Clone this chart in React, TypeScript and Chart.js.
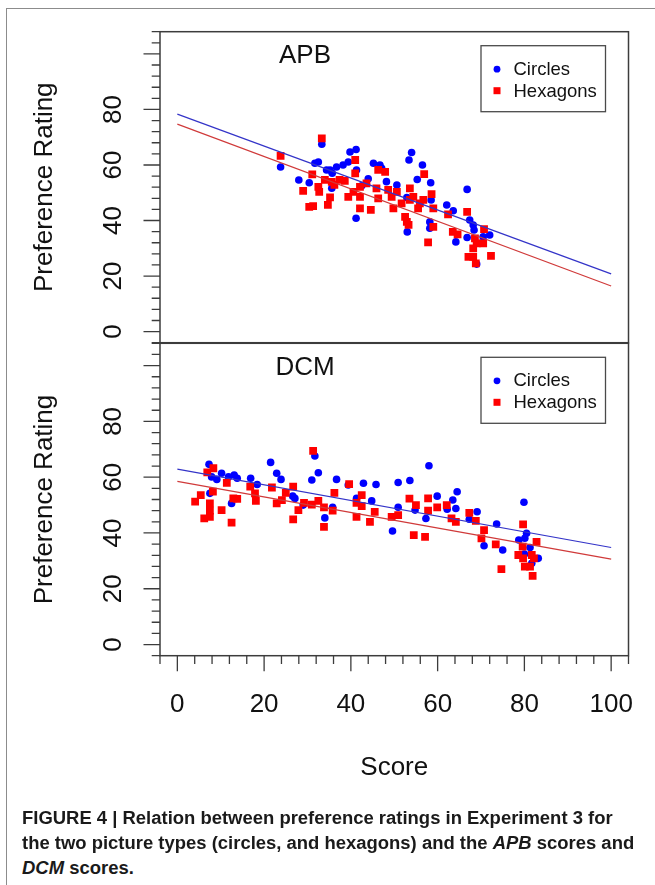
import React, { useEffect, useLayoutEffect, useRef } from "react";
import { Chart, registerables } from "chart.js";

Chart.register(...registerables);

const FONT = '"Liberation Sans", Arial, Helvetica, sans-serif';

// ---------- data ----------
const seriesNames = ["Circles", "Hexagons"];
const panelTitles = ["APB", "DCM"];
const yTickLabels = [0, 20, 40, 60, 80];
const xTickLabels = [0, 20, 40, 60, 80, 100];
const fitScores = [0, 100];

// APB panel: [score, preference rating]
const apbCircles: [number, number][] = [
  [23.8, 59.3], [28.0, 54.6], [30.4, 53.6], [31.7, 60.6], [32.5, 61.1], [33.3, 67.5],
  [34.4, 58.2], [35.2, 58.2], [35.6, 51.6], [35.7, 57.0], [36.7, 59.3], [38.2, 60.0],
  [39.4, 61.1], [39.8, 64.7], [41.2, 65.6], [41.3, 58.2], [41.2, 40.8], [42.5, 52.5],
  [44.0, 55.0], [45.2, 60.6], [46.7, 60.0], [47.1, 58.8], [48.2, 54.0], [50.6, 52.8],
  [52.9, 48.3], [53.0, 35.9], [53.4, 61.8], [54.0, 64.5], [55.3, 54.8], [56.5, 60.0],
  [58.4, 53.6], [58.5, 47.4], [58.2, 39.5], [58.2, 37.2], [62.1, 45.6], [63.6, 43.5],
  [64.2, 32.3], [66.8, 51.2], [66.8, 33.9], [67.4, 40.2], [68.2, 38.4], [68.4, 36.6],
  [69.0, 24.3], [70.5, 34.1], [72.0, 34.8],
];
const apbHexagons: [number, number][] = [
  [23.8, 63.3], [33.3, 69.6], [31.1, 56.6], [29.0, 50.7], [32.5, 52.1], [32.7, 50.3],
  [34.0, 54.6], [35.6, 53.9], [36.2, 52.8], [37.4, 54.6], [30.4, 44.9], [31.3, 45.2],
  [34.7, 45.6], [35.2, 48.3], [39.4, 48.5], [41.0, 61.8], [41.0, 57.0], [46.3, 58.2],
  [47.9, 57.5], [56.9, 56.7], [38.6, 54.3], [40.6, 50.3], [42.1, 52.1], [43.6, 53.4],
  [42.1, 48.5], [42.1, 44.4], [44.6, 43.8], [45.9, 51.6], [46.3, 48.0], [48.6, 51.0],
  [49.4, 48.5], [49.8, 44.4], [50.6, 50.3], [51.7, 46.2], [53.6, 51.6], [53.6, 47.4],
  [54.4, 48.5], [55.9, 46.2], [55.5, 44.4], [56.7, 47.4], [58.6, 49.5], [59.0, 44.4],
  [52.5, 41.3], [52.9, 39.5], [53.3, 38.4], [59.0, 37.7], [57.8, 32.1], [62.4, 42.2],
  [63.5, 35.9], [64.6, 35.0], [66.8, 43.1], [70.7, 36.9], [68.6, 33.6], [69.0, 31.8],
  [70.5, 31.8], [68.2, 30.0], [67.1, 26.9], [68.2, 26.9], [68.8, 24.6], [72.3, 27.3],
];
const apbCircleFit = [78.3, 20.8];
const apbHexagonFit = [74.7, 16.4];

// DCM panel: [score, preference rating]
const dcmCircles: [number, number][] = [
  [7.3, 64.6], [7.9, 60.1], [9.1, 59.2], [10.2, 61.4], [11.8, 60.1], [13.1, 60.8],
  [13.8, 59.6], [7.5, 54.2], [12.5, 50.6], [16.9, 59.6], [18.4, 57.4], [21.5, 65.3],
  [22.9, 61.4], [23.9, 59.2], [26.6, 53.2], [27.1, 52.4], [29.0, 50.0], [31.7, 67.6],
  [32.5, 61.6], [31.0, 59.0], [34.0, 45.4], [36.7, 59.2], [35.8, 49.2], [39.4, 57.2],
  [42.9, 57.8], [45.8, 57.4], [41.3, 52.4], [44.8, 51.5], [50.9, 58.1], [53.6, 58.8],
  [58.0, 64.1], [50.9, 49.2], [54.8, 48.2], [49.6, 40.7], [57.3, 45.2], [59.9, 53.2],
  [64.5, 54.8], [63.5, 51.8], [64.2, 48.8], [62.2, 48.5], [67.3, 44.9], [69.1, 47.6],
  [73.6, 43.2], [70.7, 35.4], [75.0, 33.9], [79.9, 51.0], [80.5, 39.9], [80.1, 38.1],
  [78.7, 37.5], [81.3, 34.8], [83.2, 30.9], [80.0, 32.4], [81.7, 29.1],
];
const dcmHexagons: [number, number][] = [
  [8.3, 63.2], [6.9, 61.7], [11.4, 58.0], [8.2, 54.8], [4.1, 51.2], [5.4, 53.6],
  [7.5, 50.6], [7.5, 48.0], [6.2, 45.2], [7.5, 45.8], [10.2, 48.2], [12.5, 43.7],
  [12.9, 52.4], [13.8, 52.2], [16.8, 56.6], [17.9, 54.2], [18.1, 51.5], [21.8, 56.3],
  [22.9, 50.6], [24.1, 51.8], [25.0, 54.4], [26.7, 56.6], [26.7, 44.9], [27.9, 48.2],
  [29.2, 50.8], [31.0, 50.2], [32.5, 51.5], [31.3, 69.4], [33.8, 49.2], [33.8, 42.2],
  [35.8, 48.0], [36.2, 54.4], [39.6, 57.5], [41.3, 50.8], [42.5, 53.6], [42.5, 49.6],
  [41.3, 45.8], [44.4, 44.0], [45.5, 47.6], [49.4, 45.8], [50.9, 46.4], [53.5, 52.3],
  [55.0, 50.0], [54.5, 39.2], [57.1, 38.6], [57.8, 52.4], [57.8, 48.0], [59.9, 49.2],
  [62.1, 50.0], [63.2, 45.2], [64.2, 44.0], [67.3, 47.2], [68.8, 44.3], [70.7, 41.0],
  [70.1, 38.1], [73.4, 35.9], [74.7, 27.0], [79.7, 43.1], [82.8, 36.8], [78.6, 32.1],
  [79.6, 35.1], [79.7, 30.9], [81.7, 32.1], [82.2, 30.9], [80.1, 27.9], [81.3, 27.9],
  [81.9, 24.6],
];
const dcmCircleFit = [62.9, 34.8];
const dcmHexagonFit = [58.5, 30.6];

// ---------- styling ----------
const BLUE = "#0000ff";
const RED = "#ff0000";
const BLUE_LINE = "#3434c8";
const RED_LINE = "#d03a3a";
const AXIS = "#3c3c3c";
const TEXT = "#111111";
const X_MIN = -4, X_MAX = 104, Y_MIN = -4, Y_MAX = 108, MINOR = 4;

function toPts(arr: [number, number][]) {
  return arr.map(([x, y]) => ({ x, y }));
}
function fitPts(fit: number[]) {
  return fitScores.map((s, i) => ({ x: s, y: fit[i] }));
}

function panelPlugin(title: string, showX: boolean) {
  return {
    id: "rpanel",
    afterDraw(chart: any) {
      const ctx: CanvasRenderingContext2D = chart.ctx;
      const { left, right, top, bottom } = chart.chartArea;
      const xs = chart.scales.x;
      const ys = chart.scales.y;
      ctx.save();
      // box
      ctx.strokeStyle = AXIS;
      ctx.lineWidth = 1.5;
      ctx.strokeRect(left, top, right - left, bottom - top);
      // y ticks
      ctx.lineWidth = 1.3;
      ctx.beginPath();
      for (let v = Y_MIN; v <= Y_MAX + 0.01; v += MINOR) {
        const py = ys.getPixelForValue(v);
        const len = v % 20 === 0 ? 16.5 : 8.3;
        ctx.moveTo(left - len, py);
        ctx.lineTo(left, py);
      }
      ctx.stroke();
      // y labels
      ctx.fillStyle = TEXT;
      ctx.font = `26px ${FONT}`;
      ctx.textAlign = "center";
      ctx.textBaseline = "middle";
      for (const v of yTickLabels) {
        const py = ys.getPixelForValue(v);
        ctx.save();
        ctx.translate(113, py);
        ctx.rotate(-Math.PI / 2);
        ctx.fillText(String(v), 0, 1);
        ctx.restore();
      }
      // y axis title
      ctx.save();
      ctx.translate(45, (top + bottom) / 2);
      ctx.rotate(-Math.PI / 2);
      ctx.fillText("Preference Rating", 0, 0);
      ctx.restore();
      // panel title
      ctx.fillText(title, 305, top + 24.5);
      // legend
      const bx = right - 147.5, by = top + 14, bw = 124.5, bh = 66;
      ctx.strokeStyle = "#4a4a4a";
      ctx.lineWidth = 1.3;
      ctx.strokeRect(bx, by, bw, bh);
      ctx.fillStyle = BLUE;
      ctx.beginPath();
      ctx.arc(bx + 16, by + 23.5, 3.4, 0, Math.PI * 2);
      ctx.fill();
      ctx.fillStyle = RED;
      ctx.fillRect(bx + 12.5, by + 41.5, 7, 7);
      ctx.fillStyle = TEXT;
      ctx.font = `18.5px ${FONT}`;
      ctx.textAlign = "left";
      ctx.fillText(seriesNames[0], bx + 32.5, by + 24);
      ctx.fillText(seriesNames[1], bx + 32.5, by + 46);
      if (showX) {
        ctx.strokeStyle = AXIS;
        ctx.lineWidth = 1.3;
        ctx.beginPath();
        for (let v = X_MIN; v <= X_MAX + 0.01; v += MINOR) {
          const px = xs.getPixelForValue(v);
          const len = v % 20 === 0 ? 15.5 : 8.3;
          ctx.moveTo(px, bottom);
          ctx.lineTo(px, bottom + len);
        }
        ctx.stroke();
        ctx.fillStyle = TEXT;
        ctx.font = `26px ${FONT}`;
        ctx.textAlign = "center";
        ctx.textBaseline = "middle";
        for (const v of xTickLabels) {
          ctx.fillText(String(v), xs.getPixelForValue(v), bottom + 49);
        }
        ctx.fillText("Score", (left + right) / 2, bottom + 112);
      }
      ctx.restore();
    },
  };
}

function makeConfig(
  circles: [number, number][],
  hexagons: [number, number][],
  circleFit: number[],
  hexFit: number[],
  title: string,
  showX: boolean,
  padding: { left: number; right: number; top: number; bottom: number }
): any {
  return {
    type: "scatter",
    data: {
      datasets: [
        {
          label: seriesNames[0] + " fit",
          data: fitPts(circleFit),
          showLine: true,
          borderColor: BLUE_LINE,
          borderWidth: 1.2,
          pointRadius: 0,
          order: 0,
        },
        {
          label: seriesNames[1] + " fit",
          data: fitPts(hexFit),
          showLine: true,
          borderColor: RED_LINE,
          borderWidth: 1.2,
          pointRadius: 0,
          order: 0,
        },
        {
          label: seriesNames[1],
          data: toPts(hexagons),
          pointStyle: "rect",
          pointRadius: 5.5,
          backgroundColor: RED,
          borderWidth: 0,
          order: 1,
        },
        {
          label: seriesNames[0],
          data: toPts(circles),
          pointStyle: "circle",
          pointRadius: 3.8,
          backgroundColor: BLUE,
          borderWidth: 0,
          order: 2,
        },
      ],
    },
    options: {
      animation: false,
      responsive: false,
      devicePixelRatio: 1,
      events: [],
      layout: { padding },
      scales: {
        x: { type: "linear", min: X_MIN, max: X_MAX, display: false },
        y: { type: "linear", min: Y_MIN, max: Y_MAX, display: false },
      },
      plugins: { legend: { display: false }, tooltip: { enabled: false }, title: { display: false } },
    },
    plugins: [panelPlugin(title, showX)],
  };
}

export default function App() {
  const topRef = useRef<HTMLCanvasElement>(null);
  const botRef = useRef<HTMLCanvasElement>(null);
  const l1 = useRef<HTMLDivElement>(null);
  const l2 = useRef<HTMLDivElement>(null);
  const l3 = useRef<HTMLDivElement>(null);

  useEffect(() => {
    const c1 = new Chart(
      topRef.current as HTMLCanvasElement,
      makeConfig(apbCircles, apbHexagons, apbCircleFit, apbHexagonFit, panelTitles[0], false, {
        left: 160, right: 26.5, top: 31.7, bottom: 7.3,
      })
    );
    const c2 = new Chart(
      botRef.current as HTMLCanvasElement,
      makeConfig(dcmCircles, dcmHexagons, dcmCircleFit, dcmHexagonFit, panelTitles[1], true, {
        left: 160, right: 26.5, top: 7.3, bottom: 144.3,
      })
    );
    return () => {
      c1.destroy();
      c2.destroy();
    };
  }, []);

  useLayoutEffect(() => {
    const el = l2.current;
    if (!el) return;
    const natural = el.scrollWidth;
    const k = natural > 0 ? 612 / natural : 1;
    for (const r of [l1, l2, l3]) {
      if (r.current) r.current.style.transform = `scaleX(${k})`;
    }
  }, []);

  const lineStyle: React.CSSProperties = {
    position: "absolute",
    left: 21.5,
    whiteSpace: "nowrap",
    transformOrigin: "0 50%",
    font: `bold 18px ${FONT}`,
    lineHeight: "20px",
    color: "#1a1a1a",
    display: "inline-block",
  };

  return (
    <div style={{ position: "absolute", left: 0, top: 0, width: 655, height: 885, background: "#fff", overflow: "hidden" }}>
      <div style={{ position: "absolute", left: 6, top: 8, width: 660, height: 900, borderLeft: "1.5px solid #8c8c8c", borderTop: "1.5px solid #8c8c8c" }} />
      <canvas ref={topRef} width={655} height={350} style={{ position: "absolute", left: 0, top: 0, width: 655, height: 350 }} />
      <canvas ref={botRef} width={655} height={464} style={{ position: "absolute", left: 0, top: 336, width: 655, height: 464 }} />
      <div ref={l1} style={{ ...lineStyle, top: 808 }}>FIGURE 4 | Relation between preference ratings in Experiment 3 for</div>
      <div ref={l2} style={{ ...lineStyle, top: 833 }}>
        the two picture types (circles, and hexagons) and the <i>APB</i> scores and
      </div>
      <div ref={l3} style={{ ...lineStyle, top: 858 }}>
        <i>DCM</i> scores.
      </div>
    </div>
  );
}
